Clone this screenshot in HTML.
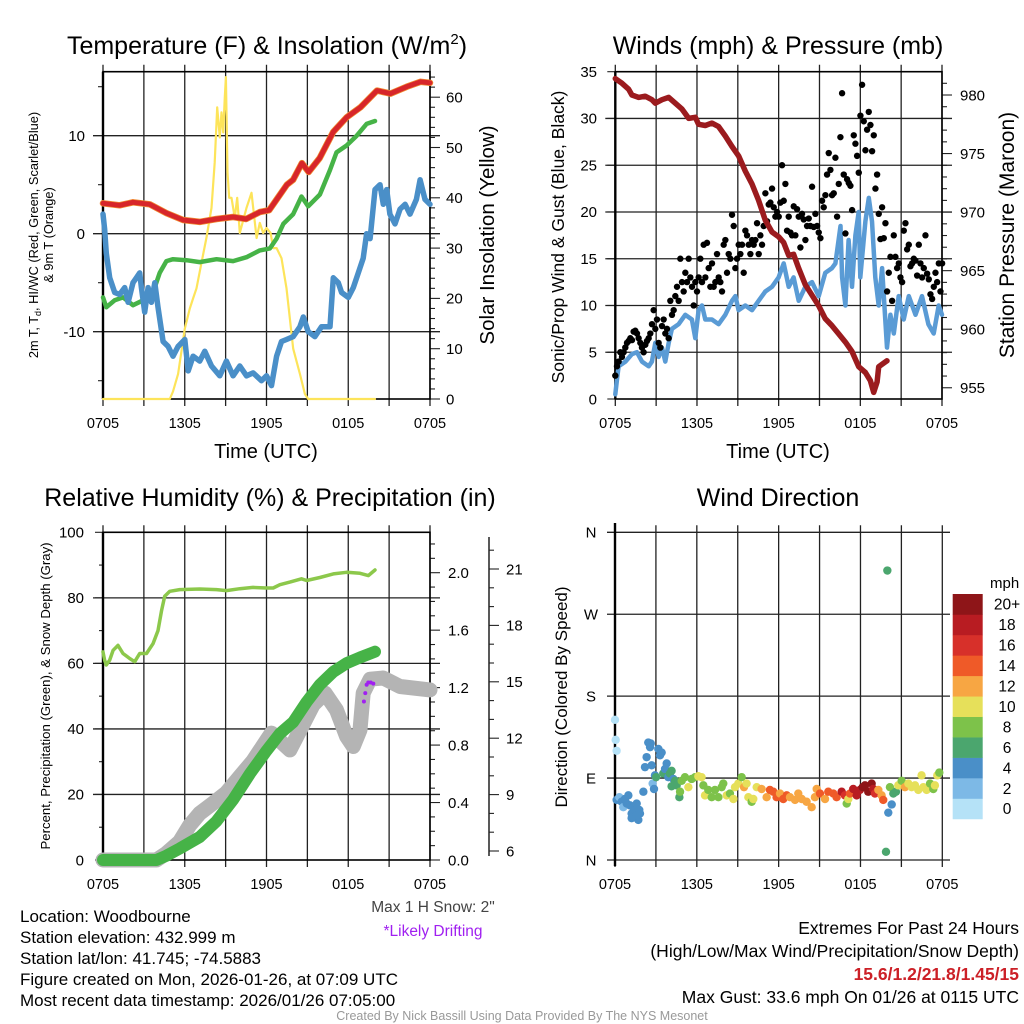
<!DOCTYPE html>
<html><head><meta charset="utf-8"><style>
html,body{margin:0;padding:0;background:#fff;}
svg{display:block;font-family:"Liberation Sans",Arial,sans-serif;}
</style></head><body>
<svg id="fig" width="1024" height="1024" viewBox="0 0 1024 1024" xmlns="http://www.w3.org/2000/svg">
<rect width="1024" height="1024" fill="#fff"/>
<g id="p1"></g>
<g id="p2"></g>
<g id="p3"></g>
<g id="p4"></g>

<text x="267" y="54" font-size="25" text-anchor="middle">Temperature (F) &amp; Insolation (W/m<tspan font-size="15" dy="-10">2</tspan><tspan dy="10">)</tspan></text>
<text x="778" y="54" font-size="25" text-anchor="middle">Winds (mph) &amp; Pressure (mb)</text>
<text x="270" y="506" font-size="25" text-anchor="middle">Relative Humidity (%) &amp; Precipitation (in)</text>
<text x="778" y="506" font-size="25" text-anchor="middle">Wind Direction</text>

<text x="266" y="458" font-size="20" text-anchor="middle">Time (UTC)</text>
<text x="778" y="458" font-size="20" text-anchor="middle">Time (UTC)</text>

<text transform="translate(38,235) rotate(-90)" font-size="12.8" text-anchor="middle">2m T, T<tspan font-size="9" dy="3">d</tspan><tspan dy="-3">, HI/WC (Red, Green, Scarlet/Blue)</tspan></text>
<text transform="translate(53,235) rotate(-90)" font-size="12.8" text-anchor="middle">&amp; 9m T (Orange)</text>
<text transform="translate(494,235) rotate(-90)" font-size="20.5" text-anchor="middle">Solar Insolation (Yellow)</text>
<text transform="translate(564,237) rotate(-90)" font-size="17.5" text-anchor="middle">Sonic/Prop Wind &amp; Gust (Blue, Black)</text>
<text transform="translate(1014,235) rotate(-90)" font-size="21" text-anchor="middle">Station Pressure (Maroon)</text>
<text transform="translate(50,696) rotate(-90)" font-size="13.2" text-anchor="middle">Percent, Precipitation (Green), &amp; Snow Depth (Gray)</text>
<text transform="translate(567,697) rotate(-90)" font-size="17" text-anchor="middle">Direction (Colored By Speed)</text>

<g font-size="17">
<text x="20" y="922">Location: Woodbourne</text>
<text x="20" y="943">Station elevation: 432.999 m</text>
<text x="20" y="964">Station lat/lon: 41.745; -74.5883</text>
<text x="20" y="985">Figure created on Mon, 2026-01-26, at 07:09 UTC</text>
<text x="20" y="1006">Most recent data timestamp: 2026/01/26 07:05:00</text>
</g>
<text x="433" y="912" font-size="15.5" fill="#444" text-anchor="middle">Max 1 H Snow: 2"</text>
<text x="433" y="936" font-size="15.5" fill="#a020f0" text-anchor="middle">*Likely Drifting</text>
<g font-size="17.5" text-anchor="end">
<text x="1019" y="934">Extremes For Past 24 Hours</text>
<text x="1019" y="957">(High/Low/Max Wind/Precipitation/Snow Depth)</text>
<text x="1019" y="980" fill="#cc2027" font-weight="bold">15.6/1.2/21.8/1.45/15</text>
<text x="1019" y="1003">Max Gust: 33.6 mph On 01/26 at 0115 UTC</text>
</g>
<text x="522" y="1020" font-size="12.5" fill="#999" text-anchor="middle">Created By Nick Bassill Using Data Provided By The NYS Mesonet</text>
</svg>
<script>
// ---------- data ----------
const xTickHours = [0, 6, 12, 18, 24];
const xTickLabels = ["0705", "1305", "1905", "0105", "0705"];

const tempT = [0,1.22,2.2,3.43,4.65,5.88,7.1,8.33,9.55,10.5,11.5,12.2,12.7,13.5,13.95,14.6,15.1,15.9,16.9,17.9,18.9,20.1,21.1,22.3,23.3,24];
const tempV = [3.1,2.9,3.2,3.0,2.1,1.4,1.2,1.5,1.7,1.5,2.2,2.4,3.4,5.0,5.5,7.2,6.3,7.7,10.4,11.9,12.9,14.6,14.3,15.0,15.5,15.4];
const wcT = [0,0.24,0.86,1.47,2.2,2.94,3.67,4.16,4.65,5.14,6.12,7.1,8.33,9.55,10.53,11.51,12.25,12.74,13.23,13.96,14.57,15.06,15.92,16.66,17.14,17.88,18.62,19.35,19.96];
const wcV = [-6.5,-7.5,-6.8,-6.5,-7.3,-6.8,-6.0,-4.0,-2.8,-2.6,-2.7,-2.9,-2.6,-2.8,-2.4,-1.7,-1.5,-0.5,1.0,2.0,3.8,2.8,4.0,6.5,8.3,9.0,10.0,11.2,11.5];
const dewT = [0,0.12,0.24,0.49,0.86,1.22,1.59,1.84,2.2,2.45,2.69,2.82,3.06,3.31,3.55,3.8,4.04,4.41,4.78,5.14,5.51,6.0,6.25,6.61,7.1,7.47,7.96,8.57,9.06,9.55,10.04,10.53,11.02,11.63,12.0,12.37,12.74,13.1,13.47,13.96,14.45,14.7,15.06,15.55,16.04,16.66,16.9,17.27,17.51,18.0,18.37,18.74,19.1,19.35,19.6,19.96,20.33,20.57,20.82,21.06,21.43,21.8,22.17,22.53,23.0,23.27,23.63,24];
const dewV = [2,0.5,-2,-4.5,-6,-6.2,-5.5,-7,-5,-4.5,-4,-5.5,-8,-5.5,-7,-5,-7.5,-11,-11.5,-12.5,-11.5,-10.8,-14,-12.5,-13,-12,-13.5,-14.5,-13,-14.5,-13.5,-14.5,-14.2,-15,-14.5,-15.5,-12.5,-11,-10.8,-10.5,-9.5,-8.5,-10,-10.5,-9.5,-9.5,-4.5,-5,-6,-6.5,-5.5,-4,-2.5,0,-0.5,4.5,5,3,4.5,2,1,2.5,3,2,3.5,5.5,3.5,3];
const solarT = [0,4.9,5.14,5.51,6.0,6.37,6.61,6.86,7.22,7.59,7.96,8.2,8.38,8.57,8.7,8.82,8.94,9.02,9.14,9.26,9.43,9.67,9.85,10.04,10.24,10.53,10.9,11.27,11.51,11.76,12.0,12.3,12.49,12.74,13.1,13.47,13.96,14.45,14.82,15.06,19.96];
const solarV = [0,0,1.5,5,14,18,20,22,27,32,38,47,58,52,57,53,60,64,45,40,40,36,40,33,35,38,41,32,35,33,34,33,30,30,28,22,10,5,1,0,0];
const tempTicks = [-10, 0, 10];
const solarTicks = [0, 10, 20, 30, 40, 50, 60];

const windT = [0,0.12,0.24,0.74,1.22,1.59,1.96,2.45,2.69,2.94,3.19,3.43,3.67,3.92,4.16,4.65,5.14,5.63,5.88,6.12,6.37,6.61,7.1,7.59,8.08,8.57,8.82,9.06,9.55,10.04,10.53,11.02,11.51,12.0,12.37,12.74,13.1,13.47,13.96,14.45,14.94,15.43,15.92,16.17,16.54,16.66,16.9,17.14,17.39,17.64,17.88,18.0,18.37,18.62,18.86,19.1,19.35,19.6,19.96,20.21,20.46,20.82,21.19,21.56,22.05,22.53,23.0,23.39,23.76,24];
const windV = [0.5,2,3.5,4,4.8,5,4,3.5,4,6,4.5,5.5,4,6,7.5,8,9,8.5,6.5,9.5,10,8.5,8.5,8,9,10.5,11,9.5,10,9.5,10.5,11.5,12,13,14.5,12,13,10.5,12,12.5,11,13.5,14,14.5,18.5,13,10,17,12,17.5,20,13,19,21.5,19,13,10,14,5.5,9,7,11,8.5,11,9,11,8,7,10,9];
const gustStartHour = 0;
const gustStepHours = 0.1225;
const gustV = [2.5,3.5,4,5,4.5,5,5.5,6,6.2,6.5,6.3,7.2,7.3,7,6.5,6,5.5,5,5.8,6.2,6.5,7,8,9.5,7.5,8.5,6,5.5,7.8,8.5,7,7.5,6.5,10.5,9,9.5,11,12,10.5,15,12.5,11.5,13.5,12.5,15,13,12,10,12.5,11.5,13,15,12.5,16.5,13,16.7,14,12,14.5,12,12.5,15.5,13,12.5,11.5,16.5,17,13.5,15.5,15,19.7,18.5,14,15,16.5,15.5,16.5,13.5,18,17.5,16.5,15.5,17,16.5,17,18.8,15.5,17.5,16.5,18.5,22,19,20.8,21,22.5,20.5,19.5,20,19.5,21,25,21.2,23,18,19.5,17.8,17.5,20.6,17.5,20.3,19.5,16.2,19.8,19.2,17,18.5,19.3,18.5,22.7,18.4,19.8,18.5,17.8,17.2,21.2,20.5,21.8,24,26.3,24.5,21.8,22,25.8,19.5,23,28,32.7,24,17.7,23.5,23.1,22.8,20.2,28.2,27.3,26,24.2,30.3,33.6,29.7,26.6,28.8,30.7,29.3,26.5,28.2,22.5,24,19.8,17.1,20.5,17.2,18.8,11.5,13.5,15.2,10.5,17.5,15.2,14,14.5,13,12.5,18,18.8,16,16.5,14.2,14.5,15,14.8,13.2,16.5,14.5,13,14,17.5,13.4,12.8,11.2,10.7,12,13.5,12.5,14.5,11.5,14.5];
const presT = [0,0.49,0.98,1.22,1.71,2.2,2.69,2.94,3.43,3.92,4.41,4.9,5.39,5.88,6.12,6.61,7.1,7.59,8.08,8.57,9.06,9.55,10.04,10.53,11.02,11.51,12.0,12.37,12.74,13.1,13.47,13.96,14.45,14.94,15.43,15.92,16.41,16.9,17.39,17.88,18.37,18.74,18.98,19.23,19.35,19.6,19.96];
const presV = [981.4,981,980.5,980,979.8,979.9,979.6,979.3,979.6,979.8,979.3,978.8,978,978.1,977.5,977.4,977.6,977.3,976.5,975.6,974.8,973.5,972.4,971,969.3,968.3,967.9,967.4,966.3,966.4,965.2,963.8,962.9,962.0,960.9,960.3,959.6,958.9,958.1,956.8,956.3,955.6,954.6,955.5,956.8,957.0,957.3];
const windTicks = [0,5,10,15,20,25,30,35];
const presTicks = [955,960,965,970,975,980];

const rhT = [0,0.12,0.24,0.49,0.74,1.1,1.47,1.96,2.33,2.69,3.19,3.67,4.04,4.29,4.53,4.9,5.63,7.1,8.33,9.06,10.04,11.02,12.0,12.49,12.98,13.72,14.57,14.94,15.92,16.9,17.88,18.86,19.47,19.96];
const rhV = [63.5,61,59.5,61,64,65.5,63,61.5,60.5,63,63,66,70,76,80.5,82,82.5,82.7,82.5,82.2,82.8,83.2,83,83,84,84.8,85.8,85.3,86.2,87.3,87.8,87.5,86.8,88.5];
const precT = [0,3.92,4.65,5.63,7.1,8.33,9.55,10.78,12.0,12.98,13.96,14.94,15.92,16.9,17.88,18.86,19.96];
const precV = [0,0,0.03,0.08,0.16,0.27,0.42,0.6,0.76,0.88,0.96,1.1,1.22,1.31,1.37,1.41,1.45];
const snowT = [0,3.92,4.65,5.63,6.37,7.1,8.08,9.06,10.04,11.02,12.0,12.37,13.72,15.43,16.29,17.14,17.88,18.37,18.86,19.1,19.6,20.57,21.8,24];
const snowV = [5.52,5.52,5.88,6.5,7.38,8.0,8.54,9.1,9.96,10.8,11.88,12.27,11.38,13.78,14.4,13.5,12.09,11.56,12.44,14.4,15.14,15.2,14.75,14.57];
const driftT = [19.15,19.25,19.35,19.47,19.65,19.84];
const driftV = [13.95,14.4,14.84,14.96,14.96,14.9];
const rhTicks = [0,20,40,60,80,100];
const precTicks = [0.0,0.4,0.8,1.2,1.6,2.0];
const snowTicks = [6,9,12,15,18,21];

const dirT = [0,0.05,0.12,0.12,0.32,0.49,0.61,0.73,0.86,0.98,1.1,1.22,1.34,1.47,1.59,1.71,1.83,1.22,1.59,1.78,2.08,2.2,2.32,2.44,2.57,2.62,2.69,2.76,2.86,2.93,3.01,3.18,3.3,3.42,3.54,3.67,3.79,3.91,4.03,4.15,4.28,4.4,4.15,4.52,4.72,4.77,4.89,5.13,5.38,5.62,5.87,6.11,6.35,6.48,6.6,6.84,7.09,7.33,7.58,7.82,7.94,8.19,8.43,8.68,8.8,9.04,9.29,9.46,9.65,9.78,10.02,10.14,10.39,10.75,11.12,11.36,11.61,11.85,12.1,12.34,12.59,12.83,13.2,13.44,13.69,14.05,14.42,14.66,14.79,15.03,15.4,15.64,16.01,16.25,16.62,16.86,16.99,17.11,17.23,17.47,17.72,17.96,18.16,18.33,18.57,18.82,18.94,19.06,19.31,19.55,19.67,19.87,19.97,20.04,20.16,20.29,20.41,20.6,20.77,21.02,21.26,21.51,21.75,22.0,22.24,22.48,22.61,22.85,23.1,23.34,23.46,23.63,23.78];
const dirD = [154,132,120,66,69,64,58,67,62,71,60,51,58,55,62,44,51,46,49,55,75,102,113,129,124,128,104,84,78,93,91,122,115,118,95,100,106,91,95,98,89,87,81,82,69,75,87,91,80,89,91,92,91,82,71,77,69,77,69,80,84,71,73,67,80,84,91,80,84,69,64,67,80,78,69,77,75,69,73,67,71,69,66,73,67,64,58,69,78,73,67,75,73,69,75,71,62,67,73,78,71,77,80,82,75,84,78,73,77,71,66,9,318,52,80,61,73,75,82,87,80,84,80,82,77,93,80,77,84,78,82,93,96];
const dirS = [0,0,0,3,2,3,2,3,4,3,4,4,3,4,4,4,4,4,4,4,4,4,4,4,4,4,4,2,4,3,5,4,4,4,5,4,4,4,6,6,4,6,6,6,6,7,8,8,9,7,7,9,10,8,10,8,8,8,8,8,7,10,8,10,10,10,8,12,10,10,8,10,10,12,12,13,14,14,12,14,13,12,12,12,12,12,12,12,12,13,12,14,14,14,18,16,8,10,14,18,18,18,20,20,20,19,18,16,12,12,14,6,6,4,8,4,6,6,10,8,12,10,10,10,10,10,9,10,8,8,10,10,8];
const dirTicks = [0,90,180,270,360];
const dirLabels = ["N","E","S","W","N"];
const speedBins = ["0","2","4","6","8","10","12","14","16","18","20+"];
const speedColors = ["#b5e2f7","#7db9e6","#4a8fc8","#4ba66e","#7dc24a","#e6e05a","#f7a643","#ef5a28","#d7302a","#b81c22","#8e1518"];

// ---------- helpers ----------
const NS = "http://www.w3.org/2000/svg";
function mk(parent, tag, attrs) {
  const e = document.createElementNS(NS, tag);
  for (const k in attrs) e.setAttribute(k, attrs[k]);
  parent.appendChild(e);
  return e;
}
function pathD(ts, vs, xf, yf) {
  return ts.map((t, i) => (i ? "L" : "M") + xf(t).toFixed(1) + "," + yf(vs[i]).toFixed(1)).join("");
}
function frame(g, L, R, T, B, fs) {
  for (let k = 0; k <= 8; k++) {
    const x = L + k * (R - L) / 8;
    const ln = mk(g, "line", {x1: x, x2: x, y1: T - 7, y2: B + 7, stroke: "#222", "stroke-width": 1.3});
    
    
  }
  xTickHours.forEach((h, i) => {
    const tx = mk(g, "text", {x: L + h / 24 * (R - L), y: B + 29, "font-size": fs, "text-anchor": "middle"});
    tx.textContent = xTickLabels[i];
    
    
  });
}
function border(g, L, R, T, B) {
  const r = mk(g, "rect", {x: L, y: T, width: R - L, height: B - T, fill: "none", stroke: "#000", "stroke-width": 1.6});
  
  
  const l = mk(g, "line", {x1: L, x2: L, y1: T, y2: B, stroke: "#000", "stroke-width": 2.4});
  
  
}
function hgrid(g, L, R, y) {
  const ln = mk(g, "line", {x1: L - 10, x2: R + 10, y1: y, y2: y, stroke: "#222", "stroke-width": 1.3});
  
  
}
function label(g, x, y, txt, anchor, fs, name) {
  const t = mk(g, "text", {x: x, y: y + fs * 0.35, "font-size": fs, "text-anchor": anchor});
  t.textContent = txt;
  
  
  return t;
}
function tick(g, x1, x2, y, name) {
  const ln = mk(g, "line", {x1: x1, x2: x2, y1: y, y2: y, stroke: "#222", "stroke-width": 1.1});
  
  
}
function line(g, d, color, w, name) {
  const p = mk(g, "path", {d: d, fill: "none", stroke: color, "stroke-width": w, "stroke-linejoin": "round", "stroke-linecap": "round"});
  
  
}

// ---------- panel 1: temperature ----------
(function () {
  const g = document.getElementById("p1");
  const L = 103, R = 430, T = 71.7, B = 399;
  const x = h => L + h / 24 * (R - L);
  const yT = v => 233.7 - v * 9.8;
  const yS = v => B - v * 5.03;
  frame(g, L, R, T, B, 14.5);
  tempTicks.forEach(v => { hgrid(g, L, R, yT(v)); label(g, 85, yT(v), String(v), "end", 15, "temp-tick-label"); });
  [-15, -5, 5, 15].forEach(v => tick(g, L - 5, L, yT(v), "temp-minor-tick"));
  for (let v = 0; v <= 64; v += 2) tick(g, R, R + (v % 10 === 0 ? 10 : 5), yS(v), "solar-tick");
  solarTicks.forEach(v => label(g, 446, yS(v), String(v), "start", 15, "solar-tick-label"));
  border(g, L, R, T, B);
  line(g, pathD(solarT, solarV, x, yS), "#fde45a", 2.2, "solar-insolation-line");
  line(g, pathD(wcT, wcV, x, yT), "#46b347", 4.5, "wind-chill-line");
  line(g, pathD(dewT, dewV, x, yT), "#4a8fc8", 5.5, "dewpoint-line");
  line(g, pathD(tempT, tempV, x, yT), "#f08a30", 6.5, "temp-9m-line");
  line(g, pathD(tempT, tempV, x, yT), "#d7262a", 5, "temp-2m-line");
})();

// ---------- panel 2: winds ----------
(function () {
  const g = document.getElementById("p2");
  const L = 615.3, R = 942, T = 71.7, B = 399;
  const x = h => L + h / 24 * (R - L);
  const yW = v => B - v * (B - T) / 35;
  const yP = p => B - (p - 954.04) * 11.71;
  frame(g, L, R, T, B, 14.5);
  windTicks.forEach(v => { if (v > 0 && v < 35) hgrid(g, L, R, yW(v)); tick(g, L - 8, L, yW(v), "wind-tick"); label(g, 597, yW(v), String(v), "end", 15, "wind-tick-label"); });
  for (let p = 955; p <= 981; p++) tick(g, R, R + (p % 5 === 0 ? 10 : 5), yP(p), "pressure-tick");
  presTicks.forEach(p => label(g, 960, yP(p), String(p), "start", 15, "pressure-tick-label"));
  border(g, L, R, T, B);
  line(g, pathD(windT, windV, x, yW), "#5a9bd5", 4.5, "sustained-wind-line");
  gustV.forEach((v, i) => {
    const c = mk(g, "circle", {cx: x(gustStartHour + i * gustStepHours), cy: yW(v), r: 3.2, fill: "#000"});
    
    
  });
  line(g, pathD(presT, presV, x, yP), "#9b1b1e", 5.5, "pressure-line");
})();

// ---------- panel 3: humidity ----------
(function () {
  const g = document.getElementById("p3");
  const L = 103, R = 430, T = 532.3, B = 860;
  const x = h => L + h / 24 * (R - L);
  const yR = v => B - v * (B - T) / 100;
  const yPr = v => B - v * 143.65;
  const ySn = v => 851 - (v - 6) * 18.8;
  frame(g, L, R, T, B, 14.5);
  rhTicks.forEach(v => { if (v > 0 && v < 100) hgrid(g, L, R, yR(v)); tick(g, L - 8, L, yR(v), "rh-tick"); label(g, 84, yR(v), String(v), "end", 15, "rh-tick-label"); });
  [10, 30, 50, 70, 90].forEach(v => tick(g, L - 4, L, yR(v), "rh-minor-tick"));
  for (let k = 0; k <= 22; k++) tick(g, R, R + (k % 4 === 0 ? 10 : 5), yPr(k / 10), "precip-tick");
  precTicks.forEach(v => label(g, 448, yPr(v), v.toFixed(1), "start", 15, "precip-tick-label"));
  const ax = mk(g, "line", {x1: 489, x2: 489, y1: 537, y2: 856, stroke: "#222", "stroke-width": 1.5});
  
  
  for (let v = 6; v <= 22; v++) tick(g, 489, 489 + ((v % 3 === 0) ? 10 : 5), ySn(v), "snow-tick");
  snowTicks.forEach(v => label(g, 506, ySn(v), String(v), "start", 15, "snow-tick-label"));
  border(g, L, R, T, B);
  line(g, pathD(snowT, snowV, x, ySn), "#b4b4b4", 15, "snow-depth-line");
  line(g, pathD(precT, precV, x, yPr), "#46b347", 12, "precipitation-line");
  line(g, pathD(rhT, rhV, x, yR), "#8cc84b", 3.5, "relative-humidity-line");
  driftT.forEach((t, i) => {
    const c = mk(g, "circle", {cx: x(t), cy: ySn(driftV[i]), r: 2, fill: "#a020f0"});
    
    
  });
})();

// ---------- panel 4: wind direction ----------
(function () {
  const g = document.getElementById("p4");
  const L = 615, R = 942.3, T = 532.3, B = 860;
  const x = h => L + h / 24 * (R - L);
  const yD = d => B - d * (B - T) / 360;
  frame(g, L, R, T, B, 14.5);
  dirTicks.forEach((d, i) => {
    const ln = mk(g, "line", {x1: 607, x2: 950, y1: yD(d), y2: yD(d), stroke: "#222", "stroke-width": 1.3});
    
    
    label(g, 591, yD(d), dirLabels[i], "middle", 15, "direction-tick-label");
  });
  const lax = mk(g, "line", {x1: L, x2: L, y1: 523, y2: 866, stroke: "#000", "stroke-width": 2.4});
  
  
  dirT.forEach((t, i) => {
    const idx = Math.min(10, Math.round(dirS[i] / 2));
    const c = mk(g, "circle", {cx: x(t), cy: yD(dirD[i]), r: 4.2, fill: speedColors[idx]});
    
    
  });
  const lg = mk(g, "g", {});
  
  
  const top = 594, bh = 20.45;
  const ttl = mk(lg, "text", {x: 990, y: 588, "font-size": 15});
  ttl.textContent = "mph";
  
  
  speedBins.forEach((lbl, k) => {
    const yy = top + (10 - k) * bh;
    const r = mk(lg, "rect", {x: 952.7, y: yy, width: 30, height: bh + 0.3, fill: speedColors[k]});
    
    
    const tx = mk(lg, "text", {x: 1007, y: yy + bh / 2 + 5.5, "font-size": 15.5, "text-anchor": "middle"});
    tx.textContent = lbl;
    
    
  });
})();
</script>
</body></html>
